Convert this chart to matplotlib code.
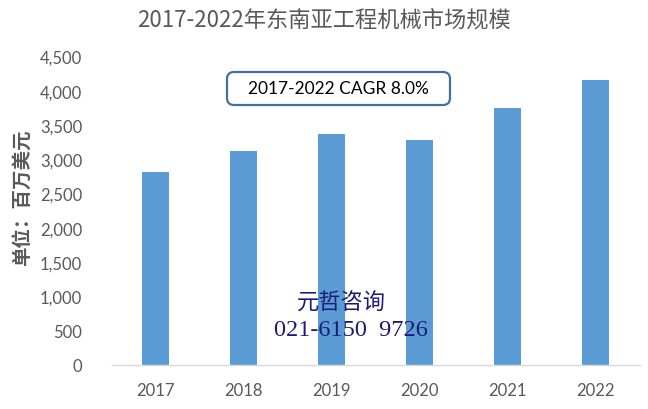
import matplotlib
matplotlib.use("Agg")
import matplotlib.pyplot as plt
from matplotlib.patches import FancyBboxPatch

years = ["2017", "2018", "2019", "2020", "2021", "2022"]
values = [2810, 3115, 3375, 3275, 3755, 4150]
yticks = [0, 500, 1000, 1500, 2000, 2500, 3000, 3500, 4000, 4500]
ytick_labels = ["0", "500", "1,000", "1,500", "2,000", "2,500", "3,000", "3,500", "4,000", "4,500"]
title = "2017-2022年东南亚工程机械市场规模"
ylabel = "单位：百万美元"
cagr_text = "2017-2022 CAGR 8.0%"
wm1 = "元哲咨询"
wm2 = "021-6150  9726"

plt.rcParams['font.family'] = ['Noto Sans CJK SC', 'DejaVu Sans']

fig = plt.figure(figsize=(6.48, 4.10), dpi=100)
ax = fig.add_axes([111.5/648, 44/410, 528/648, 308.5/410])

x = list(range(len(years)))
ax.bar(x, values, width=0.307, color="#5B9BD5", zorder=2)
ax.set_xlim(-0.5, len(years) - 0.5)
ax.set_ylim(0, 4500)
ax.set_yticks(yticks)
ax.set_yticklabels(ytick_labels, family=['Lato', 'DejaVu Sans'], fontsize=12, color="#595959")
ax.set_xticks(x)
ax.set_xticklabels(years, family=['Lato', 'DejaVu Sans'], fontsize=12, color="#595959")
ax.tick_params(axis='y', length=0, pad=21)
ax.tick_params(axis='x', length=0, pad=12)
for s in ["top", "right", "left"]:
    ax.spines[s].set_visible(False)
ax.spines["bottom"].set_color("#D9D9D9")
ax.spines["bottom"].set_linewidth(1.0)

fig.text(0.5, 0.952, title, ha="center", va="center", fontsize=16, color="#595959")
fig.text(23/648, 212/410, ylabel, ha="center", va="center", rotation=90,
         fontsize=14, fontweight="bold", color="#595959")

# CAGR box
box = FancyBboxPatch((2.27, 3.04), 2.23, 0.33,
                     boxstyle="round,pad=0,rounding_size=0.07",
                     transform=fig.dpi_scale_trans, facecolor="white",
                     edgecolor="#41719C", linewidth=1.6, zorder=5)
fig.patches.append(box)
fig.text(338.5/648, (410-89.5)/410, cagr_text, ha="center", va="center",
         fontsize=12.5, family=['Lato', 'DejaVu Sans'], color="black", zorder=6)

# watermark
fig.text(341/648, (410-303)/410, wm1, ha="center", va="center", fontsize=16,
         color="#1c1c72", zorder=7)
fig.text(351/648, (410-331)/410, wm2, ha="center", va="center", fontsize=17.5,
         family=['Liberation Serif', 'DejaVu Serif'], color="#1c1c72", zorder=7)

fig.savefig("out.png", dpi=100)
